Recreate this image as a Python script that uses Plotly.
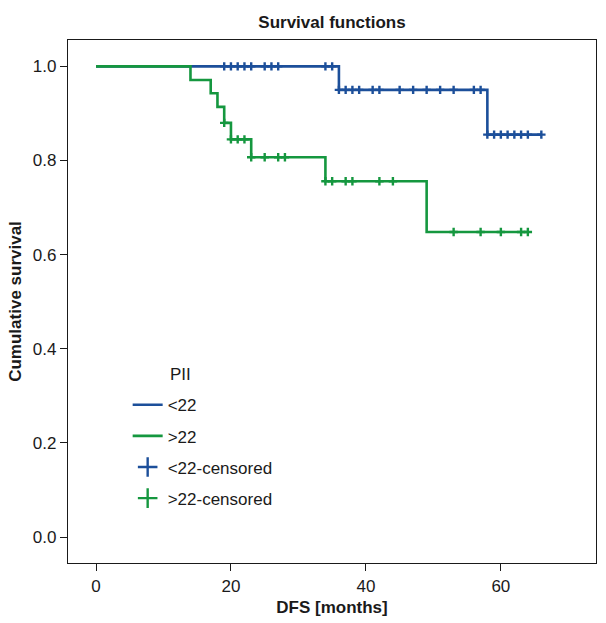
import plotly.graph_objects as go

# ---- data ----
blue_times = [0, 36, 58, 66]
blue_surv = [1.0, 0.95, 0.855, 0.855]
blue_censor_times = [19, 20, 21, 22, 23, 25, 26, 27, 34, 35,
                     36, 37, 38, 39, 41, 42, 45, 47, 49, 51, 53, 56, 57,
                     58, 59, 60, 61, 62, 63, 64, 66]

green_times = [0, 14, 17, 18, 19, 20, 23, 34, 49, 64]
green_surv = [1.0, 0.971, 0.943, 0.914, 0.880, 0.845, 0.807, 0.756, 0.648, 0.648]
green_censor_times = [19, 20, 21, 22, 23, 25, 27, 28,
                      34, 35, 37, 38, 42, 44, 53, 57, 60, 63, 64]

x_ticks = [0, 20, 40, 60]
y_ticks = [0.0, 0.2, 0.4, 0.6, 0.8, 1.0]

group_names = ["<22", ">22", "<22-censored", ">22-censored"]
legend_title = "PII"

BLUE = "#1c4f9a"
GREEN = "#15973f"
INK = "#1a1a1a"
FONT = "Liberation Sans, Arial, sans-serif"


def step_value(times, surv, t):
    val = surv[0]
    for tt, s in zip(times, surv):
        if tt <= t:
            val = s
    return val


blue_censor_surv = [step_value(blue_times, blue_surv, t) for t in blue_censor_times]
green_censor_surv = [step_value(green_times, green_surv, t) for t in green_censor_times]

fig = go.Figure()

fig.add_trace(go.Scatter(x=blue_times, y=blue_surv, mode="lines", line_shape="hv",
                         line=dict(color=BLUE, width=2.6), name=group_names[0],
                         legendgroup="g1", legendrank=1))
fig.add_trace(go.Scatter(x=green_times, y=green_surv, mode="lines", line_shape="hv",
                         line=dict(color=GREEN, width=2.6), name=group_names[1],
                         legendgroup="g2", legendrank=2))
fig.add_trace(go.Scatter(x=blue_censor_times, y=blue_censor_surv, mode="markers",
                         marker=dict(symbol="cross-thin", size=6,
                                     line=dict(color=BLUE, width=2.4)),
                         showlegend=False, hoverinfo="x+y"))
fig.add_trace(go.Scatter(x=green_censor_times, y=green_censor_surv, mode="markers",
                         marker=dict(symbol="cross-thin", size=6,
                                     line=dict(color=GREEN, width=2.4)),
                         showlegend=False, hoverinfo="x+y"))
# legend-only entries for censored marks (larger symbol as in reference)
fig.add_trace(go.Scatter(x=[None], y=[None], mode="markers",
                         marker=dict(symbol="cross-thin", size=14,
                                     line=dict(color=BLUE, width=2.4)),
                         name=group_names[2], legendgroup="g3", legendrank=3))
fig.add_trace(go.Scatter(x=[None], y=[None], mode="markers",
                         marker=dict(symbol="cross-thin", size=14,
                                     line=dict(color=GREEN, width=2.4)),
                         name=group_names[3], legendgroup="g4", legendrank=4))

fig.update_layout(
    width=606, height=623,
    margin=dict(l=68, r=10, t=40, b=60),
    paper_bgcolor="white", plot_bgcolor="white",
    font=dict(family=FONT, size=17, color=INK),
    title=dict(text="<b>Survival functions</b>", x=0.5, xanchor="center", xref="paper",
               y=1 - 22 / 623, yanchor="middle", yref="container",
               font=dict(family=FONT, size=17, color=INK)),
    showlegend=True,
    legend=dict(x=0.113, y=0.336, xanchor="left", yanchor="top",
                bgcolor="rgba(0,0,0,0)", font=dict(family=FONT, size=17),
                traceorder="grouped", tracegroupgap=6, itemwidth=30),
    annotations=[dict(text=legend_title, x=0.19, y=0.361, xref="paper", yref="paper",
                      xanchor="left", yanchor="middle", showarrow=False,
                      font=dict(family=FONT, size=17, color=INK))],
)

fig.update_xaxes(range=[-4.15, 74.1], tickvals=x_ticks, ticks="outside", ticklen=7,
                 tickwidth=1.3, tickcolor=INK, showgrid=False, zeroline=False,
                 showline=True, linecolor=INK, linewidth=1.3, mirror=True,
                 automargin=False, tickfont=dict(family=FONT, size=17),
                 title=dict(text="<b>DFS [months]</b>", standoff=6,
                            font=dict(family=FONT, size=17)))
fig.update_yaxes(range=[-0.055, 1.056], tickvals=y_ticks, tickformat=".1f",
                 ticks="outside", ticklen=7, tickwidth=1.3, tickcolor=INK,
                 showgrid=False, zeroline=False, showline=True, linecolor=INK,
                 linewidth=1.3, mirror=True, automargin=False,
                 tickfont=dict(family=FONT, size=17),
                 title=dict(text="<b>Cumulative survival</b>", standoff=6,
                            font=dict(family=FONT, size=17)))

fig.write_html("out.html", config={"displayModeBar": False},
               post_script="document.body.style.margin='0';document.body.style.padding='0';")
